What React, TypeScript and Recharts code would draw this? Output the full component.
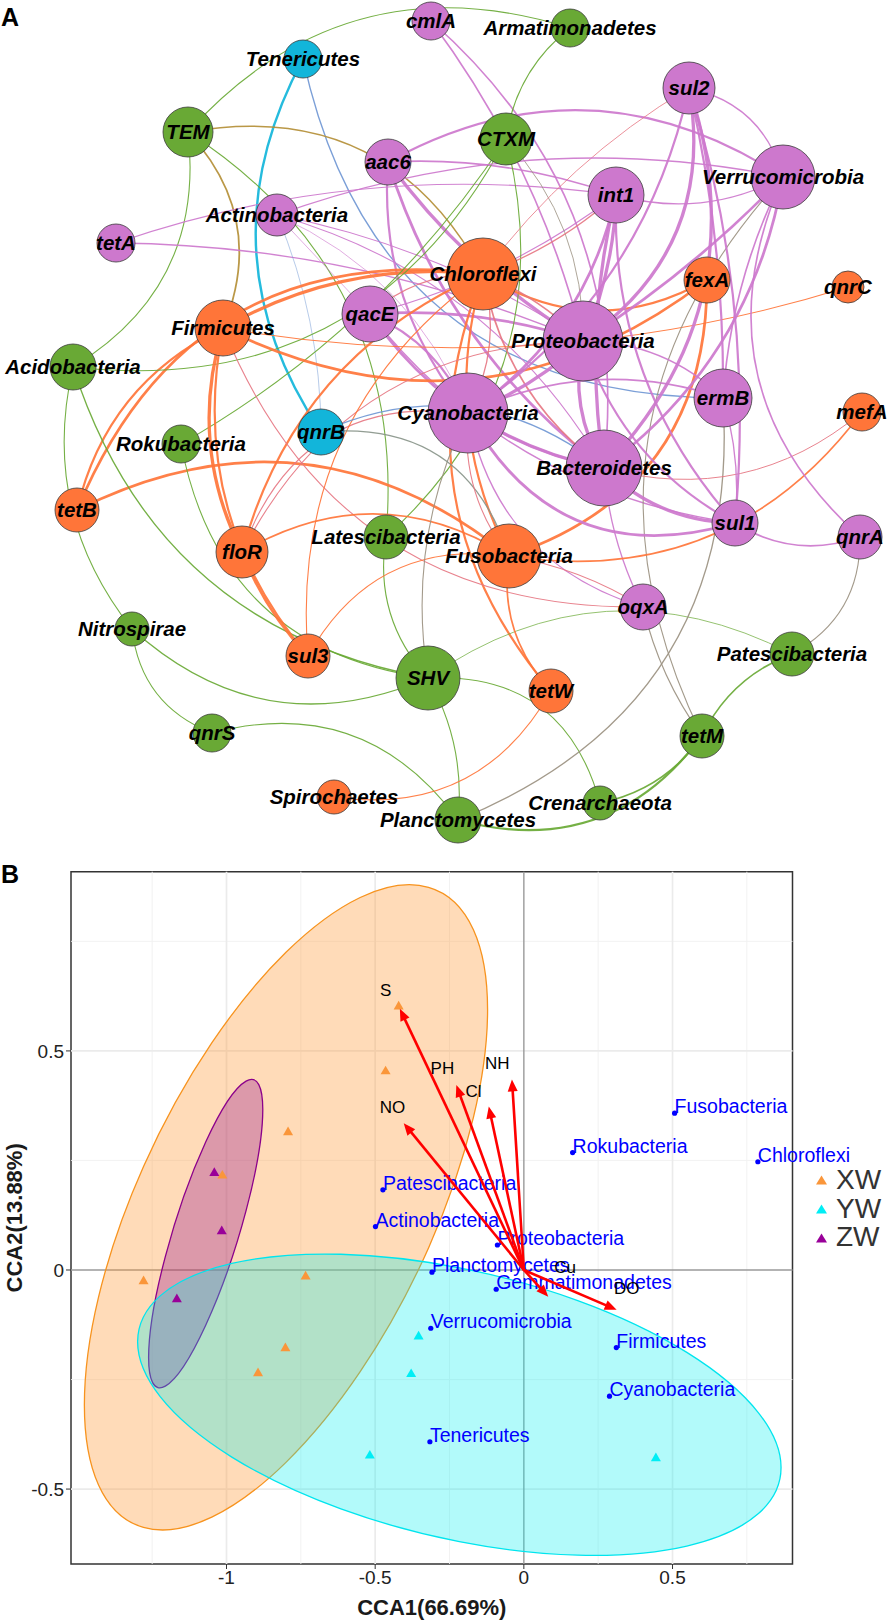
import React from 'react';
import { ReferenceArea, ReferenceLine, Scatter, ScatterChart, XAxis, YAxis } from 'recharts';

const FONT = '"Liberation Sans", Arial, Helvetica, sans-serif';

// ---------- panel A : co-occurrence network ----------
// layout position (x, y), node degree size, module
const nodes = [
  { name: 'Tenericutes', x: 303, y: 59, size: 19, module: 'c' },
  { name: 'TEM', x: 188, y: 132, size: 25, module: 'g' },
  { name: 'aac6', x: 388, y: 162, size: 23, module: 'p' },
  { name: 'Actinobacteria', x: 277, y: 215, size: 21, module: 'p' },
  { name: 'tetA', x: 116, y: 243, size: 19, module: 'p' },
  { name: 'Firmicutes', x: 223, y: 328, size: 28, module: 'o' },
  { name: 'qacE', x: 370, y: 314, size: 28, module: 'p' },
  { name: 'Acidobacteria', x: 73, y: 367, size: 23, module: 'g' },
  { name: 'qnrB', x: 321, y: 432, size: 23, module: 'c' },
  { name: 'cmlA', x: 431, y: 21, size: 19, module: 'p' },
  { name: 'Armatimonadetes', x: 570, y: 28, size: 19, module: 'g' },
  { name: 'sul2', x: 689, y: 88, size: 26, module: 'p' },
  { name: 'CTXM', x: 506, y: 139, size: 26, module: 'g' },
  { name: 'int1', x: 616, y: 195, size: 28, module: 'p' },
  { name: 'Verrucomicrobia', x: 783, y: 177, size: 32, module: 'p' },
  { name: 'Chloroflexi', x: 483, y: 274, size: 36, module: 'o' },
  { name: 'fexA', x: 707, y: 280, size: 23, module: 'o' },
  { name: 'qnrC', x: 848, y: 287, size: 16, module: 'o' },
  { name: 'Proteobacteria', x: 583, y: 341, size: 40, module: 'p' },
  { name: 'ermB', x: 723, y: 398, size: 29, module: 'p' },
  { name: 'mefA', x: 862, y: 412, size: 19, module: 'o' },
  { name: 'Cyanobacteria', x: 468, y: 413, size: 40, module: 'p' },
  { name: 'Bacteroidetes', x: 604, y: 468, size: 38, module: 'p' },
  { name: 'sul1', x: 735, y: 523, size: 23, module: 'p' },
  { name: 'qnrA', x: 860, y: 537, size: 22, module: 'p' },
  { name: 'Fusobacteria', x: 509, y: 556, size: 32, module: 'o' },
  { name: 'oqxA', x: 643, y: 607, size: 23, module: 'p' },
  { name: 'Patescibacteria', x: 792, y: 654, size: 22, module: 'g' },
  { name: 'tetW', x: 551, y: 691, size: 22, module: 'o' },
  { name: 'tetM', x: 702, y: 736, size: 22, module: 'g' },
  { name: 'Crenarchaeota', x: 600, y: 803, size: 17, module: 'g' },
  { name: 'Planctomycetes', x: 458, y: 820, size: 23, module: 'g' },
  { name: 'SHV', x: 428, y: 678, size: 32, module: 'g' },
  { name: 'Rokubacteria', x: 181, y: 444, size: 19, module: 'g' },
  { name: 'tetB', x: 77, y: 510, size: 22, module: 'o' },
  { name: 'floR', x: 242, y: 552, size: 26, module: 'o' },
  { name: 'Latescibacteria', x: 386, y: 537, size: 22, module: 'g' },
  { name: 'Nitrospirae', x: 132, y: 629, size: 17, module: 'g' },
  { name: 'sul3', x: 308, y: 656, size: 22, module: 'o' },
  { name: 'qnrS', x: 212, y: 733, size: 19, module: 'g' },
  { name: 'Spirochaetes', x: 334, y: 797, size: 17, module: 'o' },
];

// [from, to, weight, curvature]
const edges: [string, string, number, number][] = [
  ['Tenericutes', 'qnrB', 2.2, -0.15],
  ['Tenericutes', 'ermB', 1.2, -0.2],
  ['TEM', 'Armatimonadetes', 1, 0.16],
  ['TEM', 'Chloroflexi', 1.3, 0.18],
  ['TEM', 'Firmicutes', 1.6, 0.16],
  ['TEM', 'Acidobacteria', 1, 0.16],
  ['TEM', 'Latescibacteria', 1, 0.15],
  ['tetA', 'int1', 1, 0.06],
  ['tetA', 'Proteobacteria', 1.2, 0.05],
  ['Actinobacteria', 'qacE', 0.6, 0],
  ['Actinobacteria', 'Proteobacteria', 1, 0.05],
  ['Actinobacteria', 'Bacteroidetes', 1, 0.1],
  ['Actinobacteria', 'qnrB', 0.5, 0.05],
  ['Actinobacteria', 'Cyanobacteria', 0.6, 0.1],
  ['cmlA', 'Proteobacteria', 1.5, 0.05],
  ['cmlA', 'Bacteroidetes', 1.5, 0.13],
  ['aac6', 'Verrucomicrobia', 2, 0.15],
  ['aac6', 'Proteobacteria', 3, -0.05],
  ['aac6', 'Bacteroidetes', 2.5, -0.08],
  ['aac6', 'Cyanobacteria', 2, -0.1],
  ['aac6', 'int1', 1.5, 0.05],
  ['qacE', 'Proteobacteria', 2.5, 0.05],
  ['qacE', 'Bacteroidetes', 2.5, -0.1],
  ['qacE', 'Cyanobacteria', 2, 0.1],
  ['qacE', 'sul1', 1.2, -0.1],
  ['qacE', 'int1', 1, -0.05],
  ['qacE', 'Chloroflexi', 1, 0.1],
  ['Firmicutes', 'Chloroflexi', 3, 0.08],
  ['tetB', 'Chloroflexi', 2.5, 0.19],
  ['tetB', 'Firmicutes', 2, 0.12],
  ['tetB', 'Fusobacteria', 2.5, 0.16],
  ['Acidobacteria', 'Nitrospirae', 1, -0.12],
  ['Acidobacteria', 'SHV', 1.2, -0.15],
  ['Rokubacteria', 'SHV', 1, -0.18],
  ['Rokubacteria', 'CTXM', 1, -0.06],
  ['CTXM', 'Acidobacteria', 1, 0.17],
  ['CTXM', 'Latescibacteria', 1, 0.15],
  ['CTXM', 'Armatimonadetes', 1, 0.1],
  ['CTXM', 'Proteobacteria', 0.8, 0.1],
  ['Chloroflexi', 'floR', 2, -0.12],
  ['Chloroflexi', 'tetW', 2, -0.15],
  ['Chloroflexi', 'Fusobacteria', 2, -0.1],
  ['Chloroflexi', 'fexA', 2, -0.15],
  ['int1', 'Chloroflexi', 1.2, 0.05],
  ['sul2', 'Chloroflexi', 0.8, -0.05],
  ['Chloroflexi', 'Proteobacteria', 1.5, 0.05],
  ['Chloroflexi', 'Bacteroidetes', 1.5, -0.1],
  ['Chloroflexi', 'Cyanobacteria', 1.2, 0.1],
  ['Firmicutes', 'fexA', 2.5, -0.155],
  ['Firmicutes', 'qnrC', 1, -0.06],
  ['Firmicutes', 'floR', 3, -0.1],
  ['Firmicutes', 'sul3', 2, -0.12],
  ['Firmicutes', 'oqxA', 1, -0.17],
  ['floR', 'Fusobacteria', 1.5, 0.15],
  ['floR', 'sul3', 2.5, -0.05],
  ['floR', 'Cyanobacteria', 1, 0.2],
  ['floR', 'Proteobacteria', 1, 0.15],
  ['Latescibacteria', 'SHV', 1, -0.12],
  ['Nitrospirae', 'SHV', 1.2, -0.16],
  ['Nitrospirae', 'qnrS', 1, -0.15],
  ['qnrS', 'Planctomycetes', 1, 0.17],
  ['sul3', 'Fusobacteria', 1, 0.17],
  ['sul3', 'Chloroflexi', 1, 0.14],
  ['SHV', 'Cyanobacteria', 1, 0.08],
  ['SHV', 'Patescibacteria', 0.7, 0.15],
  ['SHV', 'Crenarchaeota', 1, 0.2],
  ['SHV', 'Planctomycetes', 1, 0.08],
  ['Planctomycetes', 'tetM', 2, -0.17],
  ['Crenarchaeota', 'tetM', 1.5, -0.1],
  ['Planctomycetes', 'ermB', 1.2, -0.18],
  ['tetM', 'Patescibacteria', 1.5, 0.1],
  ['tetM', 'oqxA', 1, 0.05],
  ['Patescibacteria', 'qnrA', 1, -0.15],
  ['Verrucomicrobia', 'tetM', 1, -0.17],
  ['oqxA', 'Bacteroidetes', 1.2, 0.05],
  ['oqxA', 'Cyanobacteria', 1.2, 0.15],
  ['oqxA', 'Fusobacteria', 1, -0.05],
  ['fexA', 'Fusobacteria', 2.5, 0.18],
  ['Fusobacteria', 'mefA', 1.5, -0.15],
  ['mefA', 'Bacteroidetes', 0.9, 0.13],
  ['Fusobacteria', 'tetW', 1.5, -0.12],
  ['Spirochaetes', 'tetW', 1, -0.17],
  ['qnrB', 'Bacteroidetes', 1.2, 0.15],
  ['qnrB', 'Fusobacteria', 1.2, 0.2],
  ['Cyanobacteria', 'Fusobacteria', 1, -0.1],
  ['Proteobacteria', 'Cyanobacteria', 3, 0.05],
  ['Proteobacteria', 'Bacteroidetes', 3, -0.1],
  ['Proteobacteria', 'ermB', 1.5, 0.1],
  ['Proteobacteria', 'sul1', 2, -0.1],
  ['Bacteroidetes', 'Cyanobacteria', 2.5, 0.05],
  ['Bacteroidetes', 'sul1', 3, -0.1],
  ['Cyanobacteria', 'sul1', 2.5, -0.2],
  ['Cyanobacteria', 'ermB', 1.5, 0.1],
  ['sul2', 'Proteobacteria', 3, 0.16],
  ['sul2', 'Bacteroidetes', 3, 0.15],
  ['sul2', 'ermB', 2, 0.03],
  ['sul2', 'Verrucomicrobia', 1.2, 0.15],
  ['sul2', 'sul1', 2, 0.05],
  ['sul2', 'Cyanobacteria', 2, 0.1],
  ['int1', 'Proteobacteria', 3, 0.05],
  ['int1', 'Bacteroidetes', 3, -0.05],
  ['int1', 'Cyanobacteria', 2.5, 0.1],
  ['int1', 'sul1', 2, -0.1],
  ['Verrucomicrobia', 'int1', 1.2, 0.1],
  ['Verrucomicrobia', 'Proteobacteria', 2.5, 0.03],
  ['Verrucomicrobia', 'Bacteroidetes', 2.5, 0.1],
  ['Verrucomicrobia', 'qnrA', 1.5, -0.18],
  ['Verrucomicrobia', 'Actinobacteria', 1.2, -0.07],
  ['Verrucomicrobia', 'ermB', 1.5, -0.05],
  ['qnrA', 'sul1', 1.5, 0.12],
  ['ermB', 'sul1', 1.2, 0.05],
];

// ---------- panel B : CCA ----------
const xwSites = [
  { x: -0.421, y: 0.603 }, { x: -0.465, y: 0.455 }, { x: -0.793, y: 0.316 }, { x: -1.014, y: 0.217 },
  { x: -1.279, y: -0.024 }, { x: -0.734, y: -0.013 }, { x: -0.802, y: -0.177 }, { x: -0.894, y: -0.234 },
];
const ywSites = [
  { x: -0.354, y: -0.15 }, { x: -0.379, y: -0.236 }, { x: -0.518, y: -0.422 }, { x: 0.444, y: -0.428 },
];
const zwSites = [
  { x: -1.041, y: 0.223 }, { x: -1.016, y: 0.09 }, { x: -1.167, y: -0.065 },
];

const taxa = [
  { name: 'Fusobacteria', x: 0.507, y: 0.358 },
  { name: 'Rokubacteria', x: 0.164, y: 0.268 },
  { name: 'Chloroflexi', x: 0.787, y: 0.247 },
  { name: 'Patescibacteria', x: -0.474, y: 0.183 },
  { name: 'Actinobacteria', x: -0.499, y: 0.099 },
  { name: 'Proteobacteria', x: -0.089, y: 0.057 },
  { name: 'Planctomycetes', x: -0.309, y: -0.005 },
  { name: 'Gemmatimonadetes', x: -0.093, y: -0.044 },
  { name: 'Verrucomicrobia', x: -0.313, y: -0.133 },
  { name: 'Firmicutes', x: 0.311, y: -0.177 },
  { name: 'Cyanobacteria', x: 0.288, y: -0.288 },
  { name: 'Tenericutes', x: -0.316, y: -0.392 },
];

// arrow tip (x, y) and label position (lx, ly)
const envVars = [
  { name: 'S', x: -0.417, y: 0.596, lx: -0.465, ly: 0.639 },
  { name: 'PH', x: -0.227, y: 0.422, lx: -0.274, ly: 0.46 },
  { name: 'Cl', x: -0.118, y: 0.373, lx: -0.169, ly: 0.409 },
  { name: 'NH', x: -0.04, y: 0.435, lx: -0.089, ly: 0.472 },
  { name: 'NO', x: -0.404, y: 0.335, lx: -0.442, ly: 0.371 },
  { name: 'Cu', x: 0.082, y: -0.061, lx: 0.139, ly: 0.006 },
  { name: 'DO', x: 0.312, y: -0.091, lx: 0.346, ly: -0.042 },
];

// confidence ellipses: centre, rightmost point, point straight above centre
const ellipses = [
  { group: 'XW', center: [-0.8, 0.143], right: [-0.122, 0.594], upper: [-0.8, 0.725] },
  { group: 'ZW', center: [-1.07, 0.083], right: [-0.878, 0.366], upper: [-1.07, 0.292] },
  { group: 'YW', center: [-0.217, -0.3075], right: [0.865, -0.451], upper: [-0.217, 0.005] },
];

const groups = ['XW', 'YW', 'ZW'];
const xTicks = [-1, -0.5, 0, 0.5];
const yTicks = [-0.5, 0, 0.5];
const xMajor = [-1, -0.5, 0.5];
const xMinor = [-1.25, -0.75, -0.25, 0.25, 0.75];
const yMajor = [-0.5, 0.5];
const yMinor = [-0.25, 0.25, 0.75];
const X_DOMAIN: [number, number] = [-1.523, 0.9035];
const Y_DOMAIN: [number, number] = [-0.671, 0.909];

const moduleColors: Record<string, string> = {
  g: '#69A935',
  p: '#CD78CD',
  o: '#FF7539',
  c: '#12B5DA',
};

const groupStyle: Record<string, { point: string; fill: string; stroke: string }> = {
  XW: { point: '#FA963A', fill: 'rgba(255,153,51,0.35)', stroke: '#F7931E' },
  YW: { point: '#00EEF5', fill: 'rgba(0,238,238,0.3)', stroke: '#00E5EE' },
  ZW: { point: '#990099', fill: 'rgba(139,0,139,0.3)', stroke: '#8B008B' },
};

const nodeByName: Record<string, (typeof nodes)[number]> = {};
nodes.forEach((n) => (nodeByName[n.name] = n));

function mix(a: string, b: string) {
  const pa = parseInt(a.slice(1), 16);
  const pb = parseInt(b.slice(1), 16);
  const r = Math.round((((pa >> 16) & 255) + ((pb >> 16) & 255)) / 2);
  const g = Math.round((((pa >> 8) & 255) + ((pb >> 8) & 255)) / 2);
  const bl = Math.round(((pa & 255) + (pb & 255)) / 2);
  return `rgb(${r},${g},${bl})`;
}

const edgeEnds = edges.flatMap(([a, b]) => [
  { x: nodeByName[a].x, y: nodeByName[a].y },
  { x: nodeByName[b].x, y: nodeByName[b].y },
]);

const arrowEnds = envVars.flatMap((v) => [
  { x: 0, y: 0 },
  { x: v.x, y: v.y },
]);

const envLabels = envVars.map((v) => ({ name: v.name, x: v.lx, y: v.ly }));

const ellipsePoints = ellipses.flatMap((e) => [
  { x: e.center[0], y: e.center[1] },
  { x: e.right[0], y: e.right[1] },
  { x: e.upper[0], y: e.upper[1] },
]);

function renderEdges(props: any) {
  const pts = props.points || [];
  return (
    <g>
      {edges.map(([a, b, w, bend], i) => {
        const p = pts[2 * i];
        const q = pts[2 * i + 1];
        if (!p || !q) return null;
        const dx = q.x - p.x;
        const dy = q.y - p.y;
        const cx = (p.x + q.x) / 2 + 2 * bend * dy;
        const cy = (p.y + q.y) / 2 - 2 * bend * dx;
        return (
          <path
            key={i}
            d={`M${p.x},${p.y} Q${cx},${cy} ${q.x},${q.y}`}
            fill="none"
            stroke={mix(moduleColors[nodeByName[a].module], moduleColors[nodeByName[b].module])}
            strokeWidth={w * 1.1}
            strokeOpacity={0.92}
          />
        );
      })}
    </g>
  );
}

const renderNode = (props: any) => {
  const { cx, cy, payload } = props;
  return <circle cx={cx} cy={cy} r={payload.size} fill={moduleColors[payload.module]} stroke="#3a3a3a" strokeWidth={0.8} />;
};

const renderNodeLabel = (props: any) => {
  const { cx, cy, payload } = props;
  return (
    <text
      x={cx}
      y={cy}
      dy={7}
      textAnchor="middle"
      fontFamily={FONT}
      fontSize={20.5}
      fontWeight="bold"
      fontStyle="italic"
      fill="#000"
    >
      {payload.name}
    </text>
  );
};

function renderEllipses(props: any) {
  const pts = props.points || [];
  return (
    <g>
      {ellipses.map((e, i) => {
        const c = pts[3 * i];
        const r = pts[3 * i + 1];
        const u = pts[3 * i + 2];
        if (!c || !r || !u) return null;
        const st = groupStyle[e.group];
        return (
          <circle
            key={e.group}
            cx={0}
            cy={0}
            r={1}
            transform={`matrix(${r.x - c.x} ${r.y - c.y} ${u.x - c.x} ${u.y - c.y} ${c.x} ${c.y})`}
            fill={st.fill}
            stroke={st.stroke}
            strokeWidth={1.3}
            vectorEffect="non-scaling-stroke"
          />
        );
      })}
    </g>
  );
}

function renderArrows(props: any) {
  const pts = props.points || [];
  return (
    <g>
      {envVars.map((v, i) => {
        const o = pts[2 * i];
        const t = pts[2 * i + 1];
        if (!o || !t) return null;
        const dx = t.x - o.x;
        const dy = t.y - o.y;
        const len = Math.hypot(dx, dy) || 1;
        const ux = dx / len;
        const uy = dy / len;
        const head = 12;
        const half = 5;
        const bx = t.x - ux * head;
        const by = t.y - uy * head;
        return (
          <g key={v.name}>
            <line x1={o.x} y1={o.y} x2={bx + ux * 2} y2={by + uy * 2} stroke="#FF0000" strokeWidth={2.6} />
            <polygon
              points={`${t.x},${t.y} ${bx - uy * half},${by + ux * half} ${bx + uy * half},${by - ux * half}`}
              fill="#FF0000"
            />
          </g>
        );
      })}
    </g>
  );
}

const makeTriangle = (color: string) => (props: any) => {
  const { cx, cy } = props;
  return <polygon points={`${cx},${cy - 5} ${cx - 5},${cy + 3.7} ${cx + 5},${cy + 3.7}`} fill={color} />;
};

const renderTaxon = (props: any) => {
  const { cx, cy, payload } = props;
  return (
    <g>
      <circle cx={cx} cy={cy} r={2.6} fill="#0000FF" />
      <text x={cx} y={cy} fontFamily={FONT} fontSize={19.5} fill="#0000FF">
        {payload.name}
      </text>
    </g>
  );
};

const renderEnvLabel = (props: any) => {
  const { cx, cy, payload } = props;
  return (
    <text x={cx} y={cy} dy={6} textAnchor="middle" fontFamily={FONT} fontSize={17} fill="#000">
      {payload.name}
    </text>
  );
};

const nothing = () => <g />;

const XTitle = (props: any) => {
  const vb = props.viewBox || { x: 71, y: 704, width: 721.5 };
  const x = vb.x + vb.width / 2;
  return (
    <text x={x} y={vb.y + 43} textAnchor="middle" dominantBaseline="central" fontFamily={FONT} fontSize={22} fontWeight="bold" fill="#1a1a1a">
      CCA1(66.69%)
    </text>
  );
};

const YTitle = (props: any) => {
  const vb = props.viewBox || { y: 11.7, height: 692.3 };
  const x = 15;
  const y = vb.y + vb.height / 2;
  return (
    <text
      x={x}
      y={y}
      transform={`rotate(-90 ${x} ${y})`}
      textAnchor="middle"
      dominantBaseline="central"
      fontFamily={FONT}
      fontSize={22}
      fontWeight="bold"
      fill="#1a1a1a"
    >
      CCA2(13.88%)
    </text>
  );
};

export default function App() {
  const tickStyle = { fontSize: 19, fill: '#222', fontFamily: FONT };
  return (
    <div style={{ position: 'absolute', left: 0, top: 0, width: 889, height: 1620, background: '#fff', fontFamily: FONT }}>
      <div style={{ position: 'absolute', left: 1, top: 4.5, fontSize: 25, fontWeight: 'bold', lineHeight: 1 }}>A</div>
      <div style={{ position: 'absolute', left: 0, top: 0 }}>
        <ScatterChart width={889} height={860} margin={{ top: 0, right: 0, bottom: 0, left: 0 }}>
          <XAxis type="number" dataKey="x" domain={[0, 889]} hide />
          <YAxis type="number" dataKey="y" domain={[0, 860]} reversed hide />
          <Scatter data={edgeEnds} line={renderEdges} shape={nothing} isAnimationActive={false} />
          <Scatter data={nodes} shape={renderNode} isAnimationActive={false} />
          <Scatter data={nodes} shape={renderNodeLabel} isAnimationActive={false} />
        </ScatterChart>
      </div>

      <div style={{ position: 'absolute', left: 1, top: 861.5, fontSize: 25, fontWeight: 'bold', lineHeight: 1 }}>B</div>
      <div style={{ position: 'absolute', left: 0, top: 860 }}>
        <ScatterChart width={889} height={760} margin={{ top: 11.7, right: 96.5, bottom: 0, left: 0 }}>
          <XAxis
            type="number"
            dataKey="x"
            domain={X_DOMAIN}
            ticks={xTicks}
            interval={0}
            height={56}
            tick={tickStyle}
            tickSize={5}
            tickMargin={2}
            tickLine={{ stroke: '#333' }}
            axisLine={false}
            label={XTitle}
          />
          <YAxis
            type="number"
            dataKey="y"
            domain={Y_DOMAIN}
            ticks={yTicks}
            interval={0}
            width={71}
            tick={tickStyle}
            tickSize={5}
            tickMargin={2}
            tickLine={{ stroke: '#333' }}
            axisLine={false}
            label={YTitle}
          />
          {xMinor.map((v) => (
            <ReferenceLine key={`xm${v}`} x={v} stroke="#F0F0F0" strokeWidth={0.9} />
          ))}
          {yMinor.map((v) => (
            <ReferenceLine key={`ym${v}`} y={v} stroke="#F0F0F0" strokeWidth={0.9} />
          ))}
          {xMajor.map((v) => (
            <ReferenceLine key={`xM${v}`} x={v} stroke="#EBEBEB" strokeWidth={1.7} />
          ))}
          {yMajor.map((v) => (
            <ReferenceLine key={`yM${v}`} y={v} stroke="#EBEBEB" strokeWidth={1.7} />
          ))}
          <ReferenceLine x={0} stroke="#9A9A9A" strokeWidth={1.4} />
          <ReferenceLine y={0} stroke="#9A9A9A" strokeWidth={1.4} />
          <Scatter data={ellipsePoints} line={renderEllipses} shape={nothing} isAnimationActive={false} />
          <Scatter data={xwSites} shape={makeTriangle(groupStyle.XW.point)} isAnimationActive={false} />
          <Scatter data={ywSites} shape={makeTriangle(groupStyle.YW.point)} isAnimationActive={false} />
          <Scatter data={zwSites} shape={makeTriangle(groupStyle.ZW.point)} isAnimationActive={false} />
          <Scatter data={taxa} shape={renderTaxon} isAnimationActive={false} />
          <Scatter data={arrowEnds} line={renderArrows} shape={nothing} isAnimationActive={false} />
          <Scatter data={envLabels} shape={renderEnvLabel} isAnimationActive={false} />
          <ReferenceArea
            x1={X_DOMAIN[0]}
            x2={X_DOMAIN[1]}
            y1={Y_DOMAIN[0]}
            y2={Y_DOMAIN[1]}
            fill="none"
            fillOpacity={0}
            stroke="#333"
            strokeWidth={1.5}
            ifOverflow="visible"
          />
        </ScatterChart>
      </div>

      <div style={{ position: 'absolute', left: 815, top: 1166 }}>
        {groups.map((g) => (
          <div key={g} style={{ display: 'flex', alignItems: 'center', height: 28.7 }}>
            <svg width={13} height={12}>
              <polygon points="6.5,1.5 1,10.5 12,10.5" fill={groupStyle[g].point} />
            </svg>
            <span style={{ marginLeft: 8, fontSize: 28, color: '#333', lineHeight: '28.7px' }}>{g}</span>
          </div>
        ))}
      </div>
    </div>
  );
}
